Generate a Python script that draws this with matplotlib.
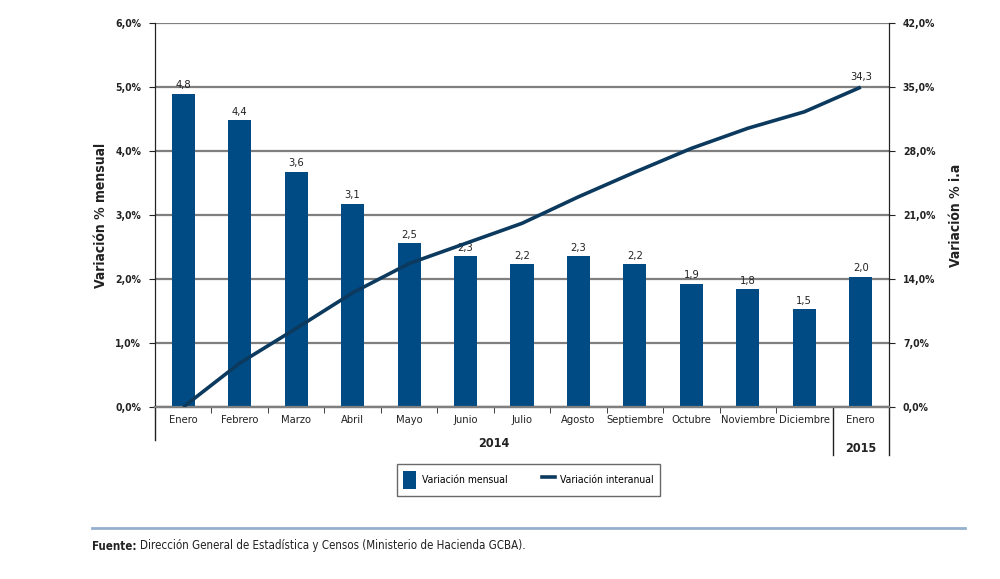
import matplotlib
matplotlib.use("Agg")
import matplotlib.pyplot as plt
from matplotlib.patches import Patch
from matplotlib.lines import Line2D
import matplotlib.transforms as mtransforms

plt.rcParams['font.family'] = ['DejaVu Sans']
plt.rcParams['font.stretch'] = 'condensed'

months = ["Enero", "Febrero", "Marzo", "Abril", "Mayo", "Junio", "Julio",
          "Agosto", "Septiembre", "Octubre", "Noviembre", "Diciembre", "Enero"]
mensual = [4.90, 4.49, 3.68, 3.18, 2.56, 2.36, 2.23, 2.36, 2.23, 1.93, 1.84, 1.53, 2.04]
mensual_labels = ["4,8", "4,4", "3,6", "3,1", "2,5", "2,3", "2,2", "2,3", "2,2", "1,9", "1,8", "1,5", "2,0"]
interanual = [0.0, 4.8, 8.6, 12.5, 15.7, 17.9, 20.1, 23.0, 25.7, 28.3, 30.5, 32.3, 35.0]
interanual_last_label = "34,3"
left_ticks = [0, 1, 2, 3, 4, 5, 6]
left_ticklabels = ["0,0%", "1,0%", "2,0%", "3,0%", "4,0%", "5,0%", "6,0%"]
right_ticks = [0, 7, 14, 21, 28, 35, 42]
right_ticklabels = ["0,0%", "7,0%", "14,0%", "21,0%", "28,0%", "35,0%", "42,0%"]
years = ["2014", "2015"]

bar_color = "#004B84"
line_color = "#0C3A5E"
dark = "#222222"

fig = plt.figure(figsize=(10, 5.79), dpi=100)
ax = fig.add_axes([0.155, 0.297, 0.734, 0.663])
ax2 = ax.twinx()

x = list(range(len(months)))
ax.bar(x, mensual, width=0.41, color=bar_color, zorder=3)
for xi, v, lab in zip(x, mensual, mensual_labels):
    ax.text(xi, v + 0.05, lab, ha='center', va='bottom', fontsize=8, color=dark, zorder=5)

ax.set_ylim(0, 6)
ax.set_xlim(-0.5, len(months) - 0.5)
ax.set_yticks(left_ticks)
ax.set_yticklabels(left_ticklabels, fontsize=7.5, fontweight='bold', color=dark)
ax.grid(axis='y', color='#7f7f7f', linewidth=1.6, zorder=0)
ax.set_axisbelow(True)
ax.set_xticks(x)
ax.set_xticklabels(months, fontsize=8, color=dark)
ax.tick_params(axis='x', length=0, pad=6)
ax.set_xticks([i + 0.5 for i in range(len(months) - 1)], minor=True)
ax.tick_params(axis='x', which='minor', length=4, direction='out', color=dark)
ax.tick_params(axis='y', length=4, color=dark, pad=6)
ax.set_ylabel("Variación % mensual", fontsize=10, fontweight='bold', color=dark, labelpad=5)

ax2.plot(x, interanual, color=line_color, linewidth=2.6, zorder=4, solid_capstyle='butt')
ax2.text(x[-1], interanual[-1] + 0.6, interanual_last_label, ha='center', va='bottom', fontsize=8, color=dark)
ax2.set_ylim(0, 42)
ax2.set_yticks(right_ticks)
ax2.set_yticklabels(right_ticklabels, fontsize=7.5, fontweight='bold', color=dark)
ax2.tick_params(axis='y', length=4, color=dark, pad=6)
ax2.set_ylabel("Variación % i.a", fontsize=10, fontweight='bold', color=dark, labelpad=10)

for a in (ax, ax2):
    a.spines['top'].set_visible(False)
    a.spines['left'].set_color(dark)
    a.spines['right'].set_color(dark)
    a.spines['bottom'].set_color('#7f7f7f')
    a.spines['bottom'].set_linewidth(1.6)

trans = mtransforms.blended_transform_factory(ax.transData, ax.transAxes)
ax.plot([-0.5, -0.5], [0, -0.085], transform=trans, color=dark, lw=1, clip_on=False)
ax.plot([11.5, 11.5], [0, -0.125], transform=trans, color=dark, lw=1, clip_on=False)
ax.plot([12.5, 12.5], [0, -0.125], transform=trans, color=dark, lw=1, clip_on=False)
ax.text(5.5, -0.095, years[0], transform=trans, ha='center', va='center', fontsize=9, fontweight='bold', color=dark)
ax.text(12, -0.108, years[1], transform=trans, ha='center', va='center', fontsize=9, fontweight='bold', color=dark)

handles = [Patch(facecolor=bar_color, edgecolor='none'),
           Line2D([0], [0], color=line_color, lw=2.6)]
leg = fig.legend(handles, ["Variación mensual", "Variación interanual"],
                 loc='center', bbox_to_anchor=(0.5285, 0.171), ncol=2,
                 fontsize=7.5, frameon=True, fancybox=False, edgecolor='#444444',
                 handlelength=1.3, handleheight=2.4, columnspacing=3.3,
                 borderpad=0.6, handletextpad=0.5)
leg.get_frame().set_linewidth(1.0)

fig.add_artist(Line2D([0.092, 0.965], [1 - 528 / 579] * 2, color='#95B0CF', lw=2))
t1 = fig.text(0.092, 1 - 546 / 579, "Fuente:", fontsize=8.3, fontweight='bold', color=dark, va='center', ha='left')
fig.canvas.draw()
bb = t1.get_window_extent(renderer=fig.canvas.get_renderer())
x2 = bb.x1 / fig.bbox.width + 0.004
fig.text(x2, 1 - 546 / 579, "Dirección General de Estadística y Censos (Ministerio de Hacienda GCBA).",
         fontsize=8.3, color=dark, va='center', ha='left')

fig.savefig("out.png", dpi=100)
